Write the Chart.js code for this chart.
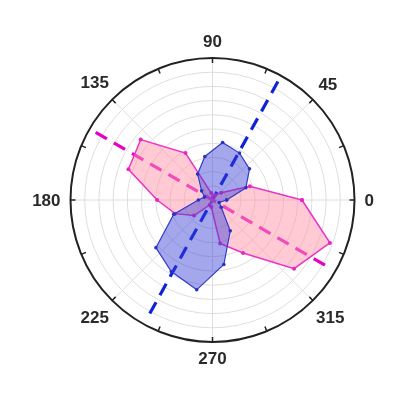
<!DOCTYPE html>
<html>
<head>
<meta charset="utf-8">
<script src="https://cdn.jsdelivr.net/npm/chart.js@4.4.1/dist/chart.umd.min.js"></script>
<style>
  body { margin: 0; background: #fff; }
</style>
</head>
<body>
<canvas id="polarChart" width="400" height="400"></canvas>
<script>
// DATA (angle in degrees, radius 0..1)
const angles = [0, 20, 40, 60, 80, 100, 120, 140, 160, 180, 200, 220, 240, 260, 280, 300, 320, 340];
const pinkR = [0.63, 0.28, 0.08, 0.04, 0.02, 0.05, 0.38, 0.66, 0.63, 0.39, 0.28, 0.17, 0.04, 0.05, 0.31, 0.43, 0.75, 0.88];
const blueR = [0.1, 0.25, 0.34, 0.38, 0.41, 0.31, 0.21, 0.1, 0.06, 0.1, 0.29, 0.52, 0.58, 0.64, 0.46, 0.25, 0.08, 0.05];
const angleLabels = ["0", "45", "90", "135", "180", "225", "270", "315"];
const labelAngles = [0, 45, 90, 135, 180, 225, 270, 315];
const ringValues = [0.1, 0.2, 0.3, 0.4, 0.5, 0.6, 0.7, 0.8, 0.9];
const pinkAxis = [150, 330];
const blueAxis = [61, 241];
const axisR = 0.95;

function toXY(r, deg) {
  const a = deg * Math.PI / 180;
  return { x: r * Math.cos(a), y: r * Math.sin(a) };
}
function polygon(rs) {
  const pts = angles.map((a, i) => toXY(rs[i], a));
  pts.push(pts[0]);
  return pts;
}
function axisLine(pair) {
  return [toXY(axisR, pair[0]), toXY(axisR, pair[1])];
}

// GRID + LABELS
const polarGrid = {
  id: "polarGrid",
  beforeDatasetsDraw(chart) {
    const ctx = chart.ctx;
    const xs = chart.scales.x, ys = chart.scales.y;
    const cx = xs.getPixelForValue(0), cy = ys.getPixelForValue(0);
    const unit = xs.getPixelForValue(1) - cx;
    ctx.save();
    ctx.strokeStyle = "#dedede";
    ctx.lineWidth = 1;
    ringValues.forEach((r) => {
      ctx.beginPath();
      ctx.arc(cx, cy, r * unit, 0, Math.PI * 2);
      ctx.stroke();
    });
    for (let a = 0; a < 360; a += 45) {
      const p = toXY(1, a);
      ctx.beginPath();
      ctx.moveTo(cx, cy);
      ctx.lineTo(xs.getPixelForValue(p.x), ys.getPixelForValue(p.y));
      ctx.stroke();
    }
    ctx.restore();
  },
  afterDraw(chart) {
    const ctx = chart.ctx;
    const xs = chart.scales.x, ys = chart.scales.y;
    const cx = xs.getPixelForValue(0), cy = ys.getPixelForValue(0);
    const unit = xs.getPixelForValue(1) - cx;
    ctx.save();
    ctx.strokeStyle = "#222";
    ctx.lineWidth = 2;
    ctx.beginPath();
    ctx.arc(cx, cy, unit, 0, Math.PI * 2);
    ctx.stroke();
    // tick marks
    ctx.lineWidth = 1.5;
    for (let a = 0; a < 360; a += 22.5) {
      const r = a * Math.PI / 180;
      ctx.beginPath();
      ctx.moveTo(cx + unit * Math.cos(r), cy - unit * Math.sin(r));
      ctx.lineTo(cx + (unit - 5) * Math.cos(r), cy - (unit - 5) * Math.sin(r));
      ctx.stroke();
    }
    // angle labels
    ctx.font = "bold 17px 'Liberation Sans', Arial, sans-serif";
    ctx.fillStyle = "#2a2a2a";
    ctx.textAlign = "center";
    ctx.textBaseline = "middle";
    angleLabels.forEach((t, i) => {
      const r = labelAngles[i] * Math.PI / 180;
      const w = ctx.measureText(t).width, h = 12.5;
      const d = unit + 10 + Math.abs(Math.cos(r)) * w / 2 + Math.abs(Math.sin(r)) * h / 2;
      ctx.fillText(t, cx + d * Math.cos(r), cy - d * Math.sin(r) + 1);
    });
    ctx.restore();
  },
};

new Chart(document.getElementById("polarChart"), {
  type: "scatter",
  data: {
    datasets: [
      {
        data: polygon(blueR),
        showLine: true,
        fill: "shape",
        backgroundColor: "rgba(55, 60, 215, 0.45)",
        borderColor: "rgb(50, 60, 200)",
        borderWidth: 1.2,
        pointRadius: 1.8,
        pointBackgroundColor: "rgb(40, 50, 190)",
        pointBorderWidth: 0,
      },
      {
        data: polygon(pinkR),
        showLine: true,
        fill: "shape",
        backgroundColor: "rgba(255, 150, 170, 0.5)",
        borderColor: "rgb(235, 50, 200)",
        borderWidth: 1.5,
        pointRadius: 2,
        pointBackgroundColor: "rgb(230, 40, 190)",
        pointBorderWidth: 0,
      },
      {
        data: axisLine(pinkAxis),
        showLine: true,
        borderColor: "rgb(230, 0, 200)",
        borderWidth: 3.2,
        borderDash: [13, 8],
        pointRadius: 0,
      },
      {
        data: axisLine(blueAxis),
        showLine: true,
        borderColor: "rgb(15, 35, 215)",
        borderWidth: 3.2,
        borderDash: [13, 8],
        pointRadius: 0,
      },
    ],
  },
  options: {
    responsive: false,
    animation: false,
    layout: { padding: { left: 70.5, right: 45.5, top: 57.5, bottom: 57.5 } },
    scales: {
      x: { type: "linear", min: -1, max: 1, display: false },
      y: { type: "linear", min: -1, max: 1, display: false },
    },
    plugins: { legend: { display: false }, tooltip: { enabled: false } },
  },
  plugins: [polarGrid],
});
</script>
</body>
</html>
